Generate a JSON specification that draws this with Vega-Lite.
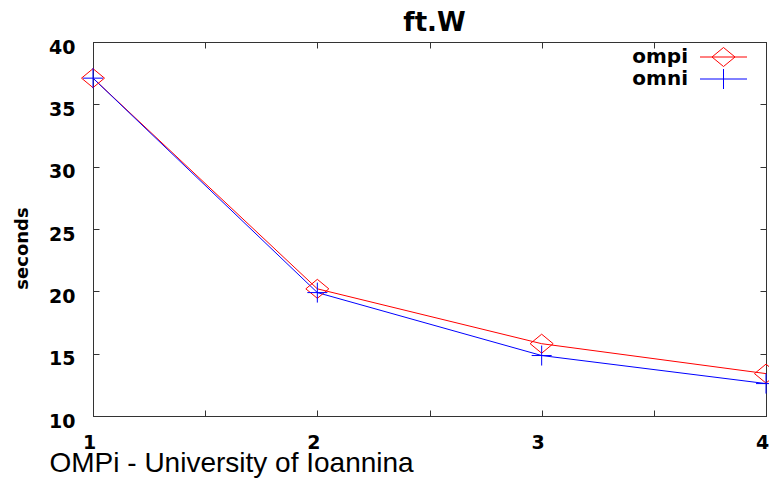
{
  "$schema": "https://vega.github.io/schema/vega-lite/v6.json",
  "width": 673,
  "height": 374,
  "autosize": {"type": "none"},
  "padding": {"left": 93, "top": 42, "right": 3, "bottom": 63},
  "background": "white",
  "title": {
    "text": "ft.W",
    "font": "DejaVu Sans",
    "fontSize": 26,
    "fontWeight": "bold",
    "color": "black",
    "baseline": "bottom",
    "offset": 6,
    "dx": 5,
    "dy": 30
  },
  "config": {
    "view": {"stroke": "#333", "strokeWidth": 1},
    "axis": {"domainColor": "#333", "tickColor": "#333", "grid": false}
  },
  "data": {
    "values": [
      {"procs": 1, "seconds": 37.1, "series": "ompi"},
      {"procs": 2, "seconds": 20.2, "series": "ompi"},
      {"procs": 3, "seconds": 15.8, "series": "ompi"},
      {"procs": 4, "seconds": 13.4, "series": "ompi"},
      {"procs": 1, "seconds": 37.1, "series": "omni"},
      {"procs": 2, "seconds": 19.9, "series": "omni"},
      {"procs": 3, "seconds": 14.85, "series": "omni"},
      {"procs": 4, "seconds": 12.6, "series": "omni"}
    ]
  },
  "layer": [
    {
      "mark": {"type": "line", "strokeWidth": 1},
      "encoding": {
        "x": {
          "field": "procs", "type": "quantitative",
          "scale": {"domain": [1, 4], "nice": false, "zero": false},
          "axis": {
            "orient": "bottom",
            "values": [1, 1.5, 2, 2.5, 3, 3.5, 4],
            "labelExpr": "datum.value % 1 === 0 ? format(datum.value, 'd') : ''",
            "tickSize": -6,
            "labelFont": "DejaVu Sans", "labelFontSize": 19, "labelFontWeight": "bold", "labelColor": "black",
            "labelBaseline": "alphabetic", "labelPadding": 38, "labelOffset": -4,
            "labelFlush": false,
            "title": "OMPi - University of Ioannina",
            "titleFont": "Liberation Sans", "titleFontSize": 28, "titleFontWeight": "normal", "titleColor": "black",
            "titleAlign": "left", "titleBaseline": "alphabetic", "titleAnchor": "start",
            "titleX": -44, "titleY": 55
          }
        },
        "y": {
          "field": "seconds", "type": "quantitative",
          "scale": {"domain": [10, 40], "nice": false, "zero": false},
          "axis": {
            "orient": "left",
            "values": [10, 15, 20, 25, 30, 35, 40],
            "tickSize": -6,
            "labelFont": "DejaVu Sans", "labelFontSize": 19, "labelFontWeight": "bold", "labelColor": "black",
            "labelPadding": 24, "labelOffset": 5, "labelFlush": false,
            "title": "seconds",
            "titleFont": "DejaVu Sans", "titleFontSize": 18, "titleFontWeight": "bold", "titleColor": "black",
            "titleAngle": -90, "titleBaseline": "alphabetic", "titleAlign": "center",
            "titleX": -66, "titleY": 206
          }
        },
        "color": {
          "field": "series", "type": "nominal",
          "scale": {"domain": ["ompi", "omni"], "range": ["#ff0000", "#0000ff"]},
          "legend": {
            "orient": "none",
            "legendX": 620,
            "legendY": 4.5,
            "title": null,
            "padding": 0,
            "rowPadding": -5,
            "symbolSize": 400,
            "symbolStrokeWidth": 1,
            "labelAlign": "right",
            "labelOffset": -46,
            "labelFont": "DejaVu Sans", "labelFontSize": 20, "labelFontWeight": "bold", "labelColor": "black",
            "labelBaseline": "middle",
            "encode": {
              "symbols": {
                "update": {
                  "shape": {"signal": "datum.value === 'ompi' ? 'M-2.35,0H2.35M-1.15,0L0,-0.95L1.15,0L0,0.95Z' : 'M-2.35,0H2.35M0,-1V1'"},
                  "fill": {"value": "transparent"}
                }
              }
            }
          }
        }
      }
    },
    {
      "transform": [{"filter": "datum.series === 'ompi'"}],
      "mark": {"type": "point", "shape": "M-1.15,0L0,-0.95L1.15,0L0,0.95Z", "size": 400, "filled": false, "stroke": "#ff0000", "strokeWidth": 1, "opacity": 1},
      "encoding": {
        "x": {"field": "procs", "type": "quantitative",
          "axis": {"orient": "top", "values": [1, 1.5, 2, 2.5, 3, 3.5, 4], "labels": false, "tickSize": -6, "title": null}},
        "y": {"field": "seconds", "type": "quantitative",
          "axis": {"orient": "right", "values": [10, 15, 20, 25, 30, 35, 40], "labels": false, "tickSize": -6, "title": null}}
      }
    },
    {
      "transform": [{"filter": "datum.series === 'omni'"}],
      "mark": {"type": "point", "shape": "M-1,0H1M0,-1V1", "size": 400, "filled": false, "stroke": "#0000ff", "strokeWidth": 1, "opacity": 1},
      "encoding": {
        "x": {"field": "procs", "type": "quantitative", "axis": null},
        "y": {"field": "seconds", "type": "quantitative", "axis": null}
      }
    }
  ],
  "resolve": {"axis": {"x": "independent", "y": "independent"}}
}
